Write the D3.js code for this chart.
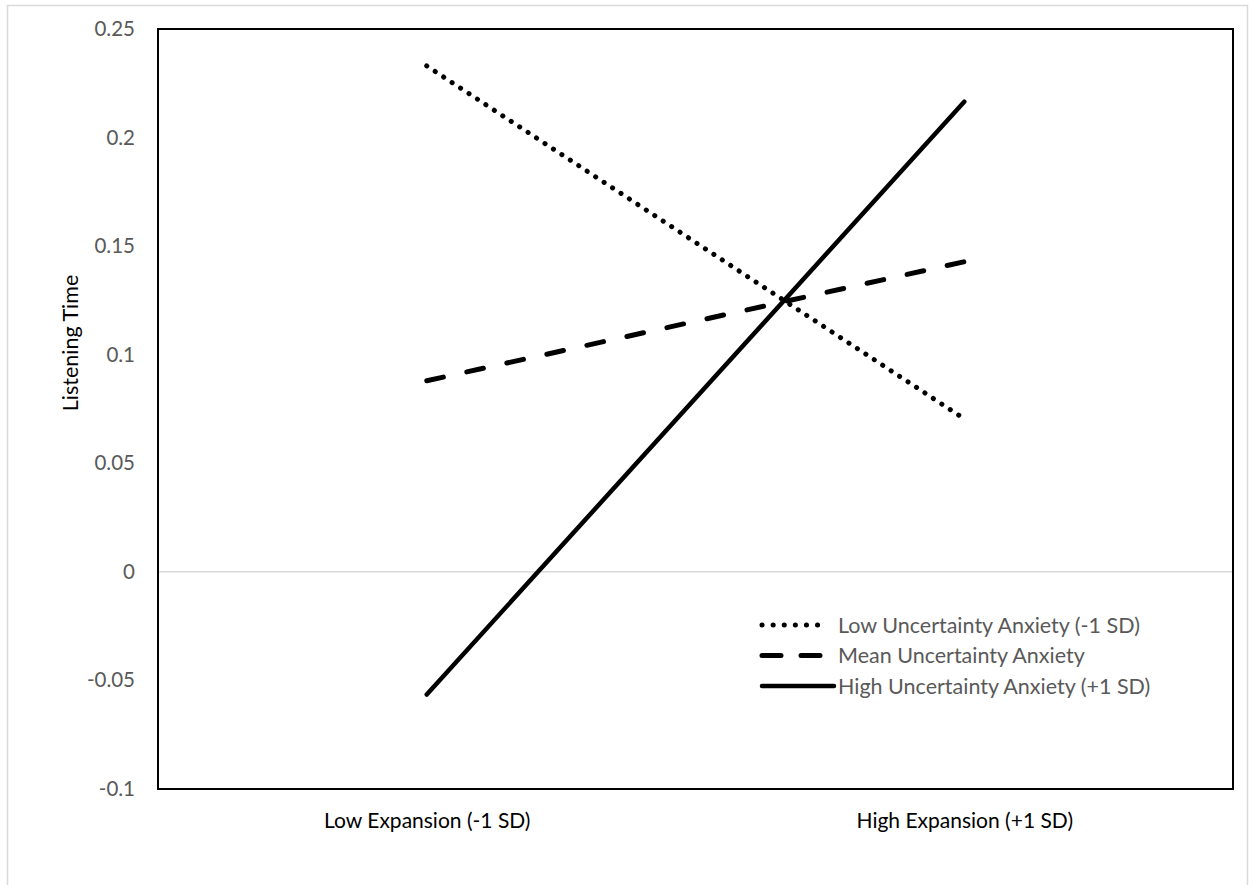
<!DOCTYPE html>
<html>
<head>
<meta charset="utf-8">
<script src="https://cdn.jsdelivr.net/npm/d3@7"></script>
<style>
  body { margin: 0; background: #fff; }
  svg text { font-family: Lato, "Open Sans", sans-serif; }
</style>
</head>
<body>
<svg id="chart"></svg>
<script>
const categories = ["Low Expansion (-1 SD)", "High Expansion (+1 SD)"];
const seriesNames = ["Low Uncertainty Anxiety (-1 SD)", "Mean Uncertainty Anxiety", "High Uncertainty Anxiety (+1 SD)"];
const lowUA = [0.233, 0.0705];
const meanUA = [0.088, 0.1428];
const highUA = [-0.0565, 0.2165];
const yTicks = [-0.1, -0.05, 0, 0.05, 0.1, 0.15, 0.2, 0.25];

const W = 1253, H = 885;
const margin = { top: 29, right: 20, bottom: 96, left: 158 },
    width = 1233 - margin.left,
    height = 789 - margin.top;

const svg0 = d3.select("#chart").attr("width", W).attr("height", H);

// outer chart border
svg0.append("rect")
  .attr("x", 7.5).attr("y", 5.5)
  .attr("width", 1240).attr("height", 900)
  .attr("fill", "none").attr("stroke", "#d9d9d9").attr("stroke-width", 1.5);

const svg = svg0.append("g")
  .attr("transform", `translate(${margin.left},${margin.top})`);

const x = d3.scalePoint().domain(categories).range([0, width]).padding(0.5);
const y = d3.scaleLinear().domain([-0.1, 0.25]).range([height, 0]);

// zero line
svg.append("line")
  .attr("x1", 0).attr("x2", width)
  .attr("y1", y(0)).attr("y2", y(0))
  .attr("stroke", "#d9d9d9").attr("stroke-width", 1.5);

// y axis labels
const yAxis = svg.append("g")
  .call(d3.axisLeft(y).tickValues(yTicks).tickSize(0).tickPadding(23)
    .tickFormat(d => String(+d.toFixed(2))));
yAxis.select(".domain").remove();
yAxis.selectAll("text").attr("fill", "#595959").style("font-size", "20.5px");

// x axis labels
const xAxis = svg.append("g")
  .attr("transform", `translate(0,${height})`)
  .call(d3.axisBottom(x).tickSize(0).tickPadding(24));
xAxis.select(".domain").remove();
xAxis.selectAll("text").attr("fill", "#000").style("font-size", "21px");

// plot frame
svg.append("rect")
  .attr("x", 0).attr("y", 0).attr("width", width).attr("height", height)
  .attr("fill", "none").attr("stroke", "#000").attr("stroke-width", 2);

// y title
svg.append("text")
  .attr("transform", `translate(-80,${height / 2 - 66}) rotate(-90)`)
  .attr("text-anchor", "middle")
  .attr("fill", "#000")
  .style("font-size", "21.5px")
  .text("Listening Time");

const styles = [
  { dash: "0.1 10", width: 5 },
  { dash: "17 24", width: 5 },
  { dash: null, width: 4.5 }
];
const series = [lowUA, meanUA, highUA];

const line = d3.line()
  .x((d, i) => x(categories[i]))
  .y(d => y(d));

series.forEach((s, k) => {
  svg.append("path")
    .datum(s)
    .attr("d", line)
    .attr("fill", "none")
    .attr("stroke", "#000")
    .attr("stroke-width", styles[k].width)
    .attr("stroke-linecap", "round")
    .attr("stroke-dasharray", styles[k].dash);
});

// legend
const legend = svg.selectAll(".legend")
  .data(seriesNames)
  .join("g")
    .attr("transform", (d, i) => `translate(${762 - margin.left},${625 - margin.top + i * 30.5})`);

legend.append("line")
  .attr("x1", 0)
  .attr("x2", (d, i) => i === 2 ? 72 : i === 1 ? 60 : 65)
  .attr("stroke", "#000")
  .attr("stroke-width", (d, i) => styles[i].width)
  .attr("stroke-linecap", "round")
  .attr("stroke-dasharray", (d, i) => i === 0 ? "0.1 11" : i === 1 ? "19 20" : null);

legend.append("text")
  .attr("x", 76)
  .attr("y", 7.5)
  .attr("fill", "#595959")
  .style("font-size", "21.5px")
  .text(d => d);
</script>
</body>
</html>
